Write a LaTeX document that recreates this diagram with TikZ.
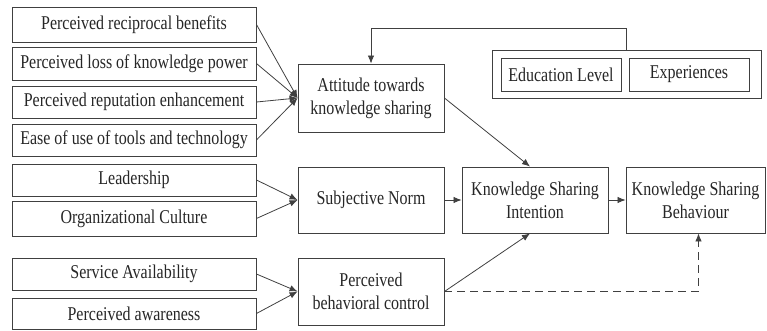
\documentclass[tikz,border=0pt]{standalone}
\usepackage{fontspec}
\usepackage{graphicx}
\setmainfont{Liberation Serif}
\usetikzlibrary{arrows.meta,calc}
\definecolor{ln}{HTML}{404040}
\definecolor{tx}{HTML}{262626}
\newcommand{\tst}[1]{\scalebox{1}[1.22]{#1}}
\begin{document}
\begin{tikzpicture}[x=1pt,y=-1pt,
  bx/.style={draw=ln,line width=0.9pt,inner sep=0pt,text=tx,align=center,
    font=\fontsize{16}{23}\selectfont},
  lbox/.style={bx,minimum width=244pt,minimum height=32pt},
  mbox/.style={bx,minimum width=146pt,minimum height=67pt},
  ar/.style={draw=ln,line width=0.8pt,-{Latex[length=8pt,width=6.5pt]}},
  ]
\useasboundingbox (0,0) rectangle (767,331);
% left boxes
\node[lbox,minimum height=35pt] (b1) at (134,24.5) {\tst{Perceived reciprocal benefits}};
\node[lbox,minimum height=33pt] (b2) at (134,63.5) {\tst{Perceived loss of knowledge power}};
\node[lbox] (b3) at (134,102) {\tst{Perceived reputation enhancement}};
\node[lbox] (b4) at (134,140) {\tst{Ease of use of tools and technology}};
\node[lbox] (b5) at (134,180) {\tst{Leadership}};
\node[lbox,minimum height=35pt] (b6) at (134,218.5) {\tst{Organizational Culture}};
\node[lbox] (b7) at (134,274) {\tst{Service Availability}};
\node[lbox,minimum height=31pt] (b8) at (134,313.5) {\tst{Perceived awareness}};
% middle
\node[mbox,minimum height=68pt] (att) at (371,98) {\tst{Attitude towards}\\\tst{knowledge sharing}};
\node[mbox,minimum height=66pt] (sn) at (371,200) {\tst{Subjective Norm}};
\node[mbox] (pbc) at (371,291.5) {\tst{Perceived}\\\tst{behavioral control}};
\node[mbox,minimum height=66pt] (ksi) at (535,200) {\tst{Knowledge Sharing}\\\tst{Intention}};
\node[mbox,minimum height=66pt,minimum width=139pt] (ksb) at (695.5,200) {\tst{Knowledge Sharing}\\\tst{Behaviour}};
% demographics
\node[bx,minimum width=269pt,minimum height=48pt] (outer) at (626.5,74) {};
\node[bx,minimum width=120pt,minimum height=33pt] (edu) at (561,74.5) {\tst{Education Level}};
\node[bx,minimum width=120pt,minimum height=33pt] (exp) at (689,74.5) {\tst{Experiences}};
% arrows
\foreach \b in {b1,b2,b3,b4}{\draw[ar] (\b.east) -- (att.west);}
\foreach \b in {b5,b6}{\draw[ar] (\b.east) -- (sn.west);}
\foreach \b in {b7,b8}{\draw[ar] (\b.east) -- (pbc.west);}
\coordinate (fb) at (371,28);
\draw[ar] (outer.north) |- (fb) -- (att.north);
\draw[ar] (att.east) -- ($(ksi.north)+(-5,0)$);
\draw[ar] (sn.east) -- (ksi.west);
\draw[ar] (pbc.east) -- ($(ksi.south)+(-5,0)$);
\draw[ar] (ksi.east) -- (ksb.west);
\draw[ar,dashed,dash pattern=on 8pt off 5pt] (pbc.east) -| ($(ksb.south)+(3,0)$);
\end{tikzpicture}
\end{document}
